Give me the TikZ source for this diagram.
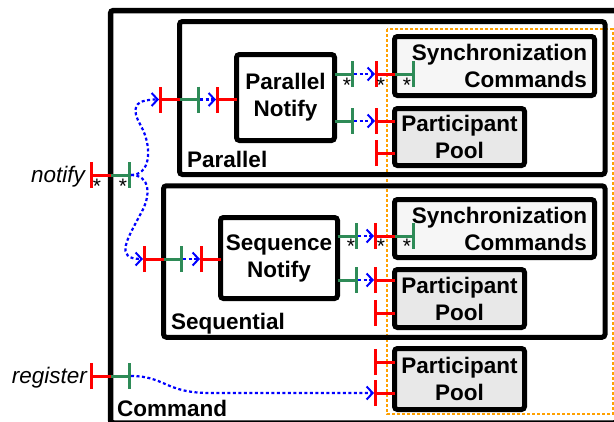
\documentclass[tikz,border=0pt]{standalone}
\usepackage{fontspec}
\setmainfont{Liberation Sans}
\usepackage{xcolor}
\usepackage{tikz}
\usetikzlibrary{arrows.meta}

\definecolor{reqred}{RGB}{255,0,0}
\definecolor{provgreen}{RGB}{46,139,87}
\definecolor{wireblue}{RGB}{0,0,255}
\definecolor{grporange}{RGB}{255,160,0}

\begin{document}
\begin{tikzpicture}[
    x=1pt, y=-1pt,
    font=\fontsize{22.5pt}{27pt}\selectfont,
    frame/.style={draw, line width=5pt, rounded corners=3pt, inner sep=0pt},
    box/.style={frame, font=\fontsize{22.5pt}{27pt}\selectfont\bfseries, align=center},
    lbl/.style={inner sep=0pt, font=\fontsize{22.5pt}{27pt}\selectfont\bfseries},
    ilbl/.style={inner sep=0pt, font=\fontsize{22.5pt}{27pt}\selectfont\itshape},
    star/.style={inner sep=0pt, anchor=base, font=\fontsize{21pt}{21pt}\selectfont},
    req/.style={reqred, line width=3pt, -{Bar[width=26pt]}},
    prov/.style={provgreen, line width=3pt, -{Bar[width=26pt]}},
    conn/.style={wireblue, line width=2.2pt, dash pattern=on 3pt off 2.5pt,
                 -{Straight Barb[length=6pt, width=13pt, line width=2pt]}},
    grp/.style={grporange, line width=1.6pt, dash pattern=on 3pt off 2pt},
]
\useasboundingbox (0,0) rectangle (614,421);

% ---------------- group of shared parts (drawn behind) ----------------
\draw[grp] (387,29) rectangle (612.7,414);

% ---------------- composite boxes ----------------
\node[frame, line width=5.5pt, minimum width=506.5pt, minimum height=412.5pt] (cmd) at (363.75,216.75) {};
\node[frame, minimum width=425.5pt, minimum height=153pt] (par) at (392.25,98) {};
\node[frame, minimum width=441.5pt, minimum height=151.5pt] (seq) at (384.25,261.5) {};
\node[lbl, anchor=base west] (cmdlbl) at (117,416) {Command};
\node[lbl, anchor=base west] (parlbl) at (187,167) {Parallel};
\node[lbl, anchor=base west] (seqlbl) at (171,329.5) {Sequential};

% ---------------- inner parts ----------------
\node[box, minimum width=98pt, minimum height=86pt] (pnfy) at (285.5,97.5) {Parallel\\Notify};
\node[box, minimum width=117pt, minimum height=81pt] (snfy) at (279,258) {Sequence\\Notify};
\node[box, fill=gray!7, minimum width=200pt, minimum height=59pt, text width=185pt,
      align=right, inner xsep=7.5pt] (psync) at (494.5,66) {Synchronization\\Commands};
\node[box, fill=gray!18, minimum width=130pt, minimum height=57pt] (ppool) at (459.5,137) {Participant\\Pool};
\node[box, fill=gray!7, minimum width=200pt, minimum height=58pt, text width=185pt,
      align=right, inner xsep=7.5pt] (ssync) at (494.5,228.5) {Synchronization\\Commands};
\node[box, fill=gray!18, minimum width=130pt, minimum height=58pt] (spool) at (459.5,298.5) {Participant\\Pool};
\node[box, fill=gray!18, minimum width=130pt, minimum height=61pt] (cpool) at (459.5,379) {Participant\\Pool};

% ---------------- outside labels ----------------
\node[ilbl, anchor=base east] (nfylbl) at (85,182) {notify};
\node[ilbl, anchor=base east] (reglbl) at (87,383) {register};

% ---------------- ports on Command ----------------
\draw[req] (110.5,175) -- (90,175) coordinate (nfyR);
\draw[prov] (110.5,175) -- (131,175) coordinate (nfyP);
\draw[req] (110.5,376) -- (90,376) coordinate (regR);
\draw[prov] (110.5,376) -- (131,376) coordinate (regP);
\draw[req] (394.5,362) -- (374,362) coordinate (cpoolR1);
\draw[req] (394.5,393) -- (374,393) coordinate (cpoolR2);

% ---------------- ports in Parallel ----------------
\draw[req] (179.5,99.5) -- (159,99.5) coordinate (parR);
\draw[prov] (179.5,99.5) -- (200,99.5) coordinate (parP);
\draw[req] (236.5,99.5) -- (216,99.5) coordinate (pnfyR);
\draw[prov] (334.5,74) -- (354,74) coordinate (pnfyP1);
\draw[prov] (334.5,121) -- (354,121) coordinate (pnfyP2);
\draw[req] (394.5,74) -- (375,74) coordinate (psyncR);
\draw[prov] (394.5,74) -- (415,74) coordinate (psyncP);
\draw[req] (394.5,121) -- (375,121) coordinate (ppoolR1);
\draw[req] (394.5,153) -- (375,153) coordinate (ppoolR2);

% ---------------- ports in Sequential ----------------
\draw[req] (163.5,259) -- (143,259) coordinate (seqR);
\draw[prov] (163.5,259) -- (183,259) coordinate (seqP);
\draw[req] (220.5,259) -- (200,259) coordinate (snfyR);
\draw[prov] (337.5,236) -- (358,236) coordinate (snfyP1);
\draw[prov] (337.5,280) -- (358,280) coordinate (snfyP2);
\draw[req] (394.5,236) -- (374,236) coordinate (ssyncR);
\draw[prov] (394.5,236) -- (415,236) coordinate (ssyncP);
\draw[req] (394.5,280) -- (374,280) coordinate (spoolR1);
\draw[req] (394.5,313) -- (374,313) coordinate (spoolR2);

% multiplicity marks (base of the glyph)
\foreach \x/\y [count=\i] in {97/193, 123/193, 347/92, 381/92, 407/92, 351/253, 381/253, 407/253}
    \node[star] (ast\i) at (\x,\y) {*};

% ---------------- wires ----------------
\draw[conn] (nfyP) .. controls (150,175) and (152,150) .. (143,130)
    .. controls (137,118) and (124,99.5) .. (parR);
\draw[conn] (nfyP) .. controls (150,175) and (152,195) .. (140,215)
    .. controls (128,238) and (114,259) .. (seqR);
\draw[conn] (parP) -- (pnfyR);
\draw[conn] (seqP) -- (snfyR);
\draw[conn] (pnfyP1) -- (psyncR);
\draw[conn] (pnfyP2) -- (ppoolR1);
\draw[conn] (snfyP1) -- (ssyncR);
\draw[conn] (snfyP2) -- (spoolR1);
\draw[conn] (regP) .. controls (165,376) and (165,393) .. (210,393) -- (cpoolR2);
\end{tikzpicture}
\end{document}
